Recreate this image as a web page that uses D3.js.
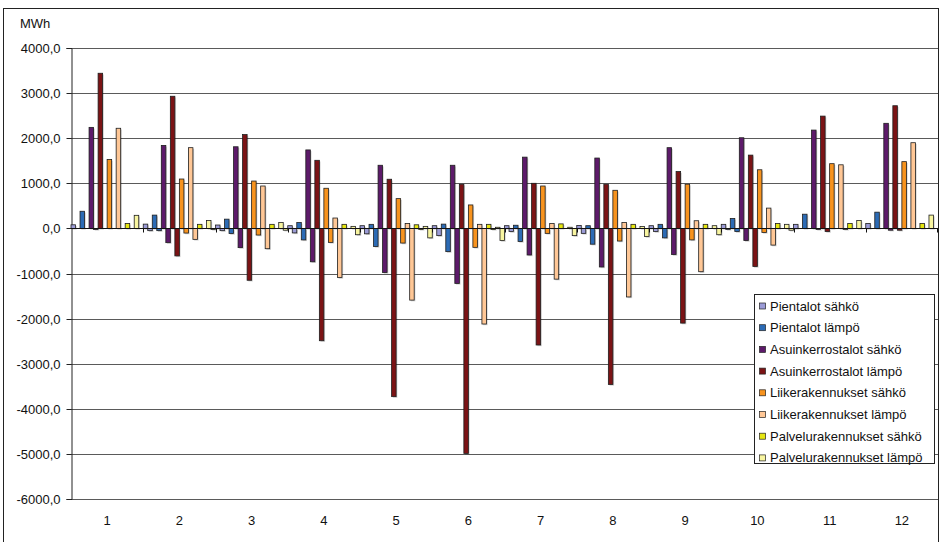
<!DOCTYPE html>
<html>
<head>
<meta charset="utf-8">
<script src="https://cdn.jsdelivr.net/npm/d3@7"></script>
<style>
  body { margin: 0; background: #fff; }
  svg { display: block; font-family: "Liberation Sans", Arial, sans-serif; }
</style>
</head>
<body>
<svg id="svg"></svg>
<script>
// Chart data (MWh)
const months = ["1", "2", "3", "4", "5", "6", "7", "8", "9", "10", "11", "12"];
const seriesNames = [
    "Pientalot sähkö", "Pientalot lämpö",
    "Asuinkerrostalot sähkö", "Asuinkerrostalot lämpö",
    "Liikerakennukset sähkö", "Liikerakennukset lämpö",
    "Palvelurakennukset sähkö", "Palvelurakennukset lämpö"
];
const seriesColors = ["#9b9bd6", "#2c6bb5", "#5d1a6a", "#7b1315", "#f7931e", "#ffc796", "#e6e612", "#f8f5a0"];

// positive part of every series, month by month
const plusValues = [
    [80, 95, 75, 60, 60, 60, 60, 65, 60, 90, 90, 110],
    [380, 295, 205, 130, 90, 95, 70, 60, 90, 220, 315, 360],
    [2240, 1840, 1810, 1740, 1400, 1400, 1580, 1560, 1790, 2010, 2180, 2330],
    [3440, 2930, 2080, 1510, 1090, 980, 1000, 980, 1260, 1625, 2490, 2720],
    [1530, 1095, 1050, 890, 660, 520, 940, 845, 980, 1300, 1435, 1480],
    [2220, 1790, 940, 230, 110, 90, 110, 130, 170, 450, 1410, 1900],
    [110, 90, 90, 90, 80, 90, 100, 90, 90, 110, 110, 110],
    [290, 175, 130, 45, 45, 25, 25, 40, 60, 90, 175, 295]
];
// negative part of every series, month by month
const minusValues = [
    [0, -50, -50, -100, -120, -160, -70, -110, -70, -20, 0, 0],
    [0, -50, -115, -255, -400, -515, -290, -350, -210, -70, 0, 0],
    [-20, -316, -426, -740, -980, -1220, -590, -855, -580, -270, -20, -40],
    [0, -610, -1150, -2490, -3730, -4990, -2585, -3460, -2100, -845, -70, -40],
    [0, -103, -147, -310, -325, -420, -110, -280, -255, -90, 0, 0],
    [0, -243, -450, -1090, -1590, -2120, -1125, -1520, -960, -370, -20, 0],
    [0, 0, 0, 0, -20, -20, 0, 0, 0, 0, 0, 0],
    [0, -20, -40, -140, -210, -270, -160, -180, -140, -40, 0, 0]
];
const yTicks = [4000, 3000, 2000, 1000, 0, -1000, -2000, -3000, -4000, -5000, -6000];

const width = 941;
const height = 542;
const plot = { left: 71, right: 938, top: 48, bottom: 499 };

let svg = d3.select("#svg").attr("width", width).attr("height", height);

const fmt = d3.formatLocale({ decimal: ",", thousands: "", grouping: [3], currency: ["", ""], minus: "-" }).format(".1f");

// outer frame
svg.append("rect")
    .attr("x", 3.5).attr("y", 8.5)
    .attr("width", 935).attr("height", 545)
    .attr("fill", "#fff").attr("stroke", "#222");

let y = d3.scaleLinear().domain([-6000, 4000]).range([plot.bottom, plot.top]);
let x = d3.scaleBand().domain(months).range([plot.left, plot.right]).padding(0);

// 16 slots inside every month: each series gets its positive and negative bar
let slotKeys = [];
seriesNames.forEach((s, i) => { slotKeys.push(i + "+"); slotKeys.push(i + "-"); });
let xSlot = d3.scaleBand().domain(slotKeys).range([0, x.bandwidth()]).padding(0);

// gridlines
svg.append("g")
    .selectAll("line")
    .data(yTicks)
    .join("line")
    .attr("x1", plot.left).attr("x2", plot.right)
    .attr("y1", d => Math.round(y(d)) + 0.5).attr("y2", d => Math.round(y(d)) + 0.5)
    .attr("stroke", "#5a5a5a");

// y axis
let yAxis = svg.append("g")
    .attr("transform", "translate(" + (plot.left + 0.5) + ",0)")
    .call(d3.axisLeft(y).tickValues(yTicks).tickFormat(fmt).tickSize(5).tickPadding(6));
yAxis.select(".domain").attr("stroke", "#222");
yAxis.selectAll(".tick line").attr("stroke", "#222");
yAxis.selectAll("text").style("font-size", "13px").attr("fill", "#111");
yAxis.selectAll(".tick").attr("transform", d => "translate(0," + (Math.round(y(d)) + 0.5) + ")");

svg.append("text")
    .attr("x", 20).attr("y", 28)
    .style("font-size", "13px")
    .attr("fill", "#111")
    .text("MWh");

// bars
let bars = [];
months.forEach((m, mi) => {
    seriesNames.forEach((s, si) => {
        bars.push({ month: m, key: si + "+", value: plusValues[si][mi], color: seriesColors[si] });
        bars.push({ month: m, key: si + "-", value: minusValues[si][mi], color: seriesColors[si] });
    });
});
bars = bars.filter(d => d.value !== 0);

function barX(d) { return x(d.month) + xSlot(d.key); }
function barY(d) { return Math.min(y(0), y(d.value)); }
function barH(d) { return Math.max(1, Math.abs(y(d.value) - y(0))); }

// soft shadow
svg.append("g")
    .selectAll("rect")
    .data(bars)
    .join("rect")
    .attr("x", d => barX(d) + 1.2)
    .attr("y", d => barY(d) + 1.2)
    .attr("width", xSlot.bandwidth())
    .attr("height", barH)
    .attr("fill", "#000")
    .attr("opacity", 0.18);

svg.append("g")
    .selectAll("rect")
    .data(bars)
    .join("rect")
    .attr("x", barX)
    .attr("y", barY)
    .attr("width", xSlot.bandwidth())
    .attr("height", barH)
    .attr("fill", d => d.color)
    .attr("stroke", "#1e1e1e")
    .attr("stroke-width", 0.8);

// category axis on the zero line
let zeroY = Math.round(y(0)) + 0.5;
svg.append("line")
    .attr("x1", plot.left).attr("x2", plot.right)
    .attr("y1", zeroY).attr("y2", zeroY)
    .attr("stroke", "#111");
svg.append("g")
    .selectAll("line")
    .data(months.slice(1).concat(["end"]))
    .join("line")
    .attr("x1", d => d === "end" ? plot.right - 0.5 : Math.round(x(d)) + 0.5)
    .attr("x2", d => d === "end" ? plot.right - 0.5 : Math.round(x(d)) + 0.5)
    .attr("y1", zeroY).attr("y2", zeroY + 4)
    .attr("stroke", "#111");

svg.append("g")
    .selectAll("text")
    .data(months)
    .join("text")
    .attr("x", d => x(d) + x.bandwidth() / 2)
    .attr("y", 525)
    .attr("text-anchor", "middle")
    .style("font-size", "13px")
    .attr("fill", "#111")
    .text(d => d);

// legend
let legend = svg.append("g");
legend.append("rect")
    .attr("x", 754.5).attr("y", 294.5)
    .attr("width", 180).attr("height", 169)
    .attr("fill", "#fff").attr("stroke", "#222");

let entries = legend.selectAll("g.entry")
    .data(seriesNames)
    .join("g")
    .attr("class", "entry")
    .attr("transform", (d, i) => "translate(0," + (306 + i * 21.7) + ")");

entries.append("rect")
    .attr("x", 759.5).attr("y", -3)
    .attr("width", 6).attr("height", 6)
    .attr("fill", (d, i) => seriesColors[i])
    .attr("stroke", "#222").attr("stroke-width", 0.7);

entries.append("text")
    .attr("x", 770).attr("y", 0)
    .attr("dy", "0.35em")
    .style("font-size", "13px")
    .attr("fill", "#111")
    .text(d => d);
</script>
</body>
</html>
